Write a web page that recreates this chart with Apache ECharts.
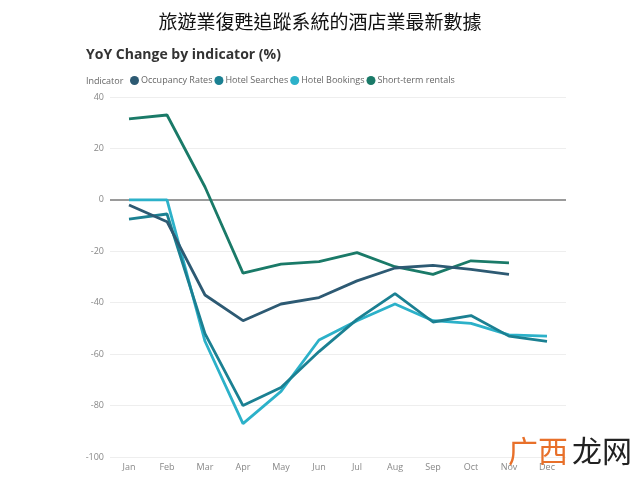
<!DOCTYPE html>
<html>
<head>
<meta charset="utf-8">
<script src="https://cdn.jsdelivr.net/npm/echarts@6/dist/echarts.min.js"></script>
<style>
  html, body { margin: 0; padding: 0; background: #fff; }
  #chart { width: 640px; height: 482px; }
</style>
</head>
<body>
<div id="chart"></div>
<script>
const months = ["Jan", "Feb", "Mar", "Apr", "May", "Jun", "Jul", "Aug", "Sep", "Oct", "Nov", "Dec"];
const yTicks = { min: -100, max: 40, interval: 20 };

const occupancyRates = [-2, -8.5, -37, -47, -40.5, -38, -31.5, -26.5, -25.5, -27, -29, null];
const hotelSearches = [-7.5, -5.5, -52, -80, -73, -59, -46.5, -36.5, -47.5, -45, -53, -55];
const hotelBookings = [0, 0, -55, -87, -74.5, -54.5, -47, -40.5, -47, -48, -52.5, -53];
const shortTermRentals = [31.5, 33, 5, -28.5, -25, -24, -20.5, -26, -29, -23.7, -24.5, null];

const seriesNames = ["Occupancy Rates", "Hotel Searches", "Hotel Bookings", "Short-term rentals"];
const seriesColors = ["#2d5a73", "#1b8092", "#2cb1c9", "#1a7a68"];
const seriesData = [occupancyRates, hotelSearches, hotelBookings, shortTermRentals];

const chart = echarts.init(document.getElementById("chart"));

const series = seriesNames.map((name, i) => ({
  name,
  type: "line",
  data: seriesData[i],
  symbol: "none",
  lineStyle: { width: 2.8, color: seriesColors[i] },
  itemStyle: { color: seriesColors[i] },
  z: 10 - i,
}));

// zero reference line
series[0].markLine = {
  silent: true,
  symbol: "none",
  label: { show: false },
  lineStyle: { color: "#9a9a9a", width: 2, type: "solid" },
  data: [{ yAxis: 0 }],
  z: 1,
};

chart.setOption({
  backgroundColor: "#fff",
  animation: false,
  title: [
    {
      text: "旅遊業復甦追蹤系統的酒店業最新數據",
      left: "center",
      top: 7,
      textStyle: { fontFamily: "Noto Sans CJK TC", fontSize: 19, fontWeight: "normal", color: "#111" },
    },
    {
      text: "YoY Change by indicator (%)",
      left: 81,
      top: 43,
      textStyle: { fontFamily: "Open Sans", fontSize: 14, fontWeight: "bold", color: "#333" },
    },
    {
      text: "Indicator",
      left: 81,
      top: 72,
      textStyle: { fontFamily: "Open Sans", fontSize: 9, fontWeight: "normal", color: "#666" },
    },
  ],
  legend: {
    left: 125,
    top: 71,
    icon: "circle",
    itemWidth: 9,
    itemHeight: 9,
    itemGap: 2,
    textStyle: { fontFamily: "Open Sans", fontSize: 9, color: "#666", padding: [0, 0, 0, -3] },
    data: seriesNames,
  },
  grid: { left: 110, right: 74, top: 97, bottom: 25, containLabel: false },
  xAxis: {
    type: "category",
    data: months,
    boundaryGap: true,
    axisLine: { show: false },
    axisTick: { show: false },
    axisLabel: { color: "#888", fontFamily: "Open Sans", fontSize: 9, margin: 6 },
  },
  yAxis: {
    type: "value",
    min: yTicks.min,
    max: yTicks.max,
    interval: yTicks.interval,
    axisLine: { show: false },
    axisTick: { show: false },
    axisLabel: { color: "#888", fontFamily: "Open Sans", fontSize: 9, margin: 6 },
    splitLine: { lineStyle: { color: "#eeeeee", width: 1 } },
  },
  graphic: [
    {
      type: "text",
      left: 508,
      top: 436,
      z: 100,
      style: {
        text: "广西",
        font: "30px 'Noto Sans CJK SC'",
        fill: "#e8702a",
      },
    },
    {
      type: "text",
      left: 572,
      top: 436,
      z: 100,
      style: {
        text: "龙网",
        font: "30px 'Noto Sans CJK SC'",
        fill: "#222",
      },
    },
  ],
  series,
});
</script>
</body>
</html>
